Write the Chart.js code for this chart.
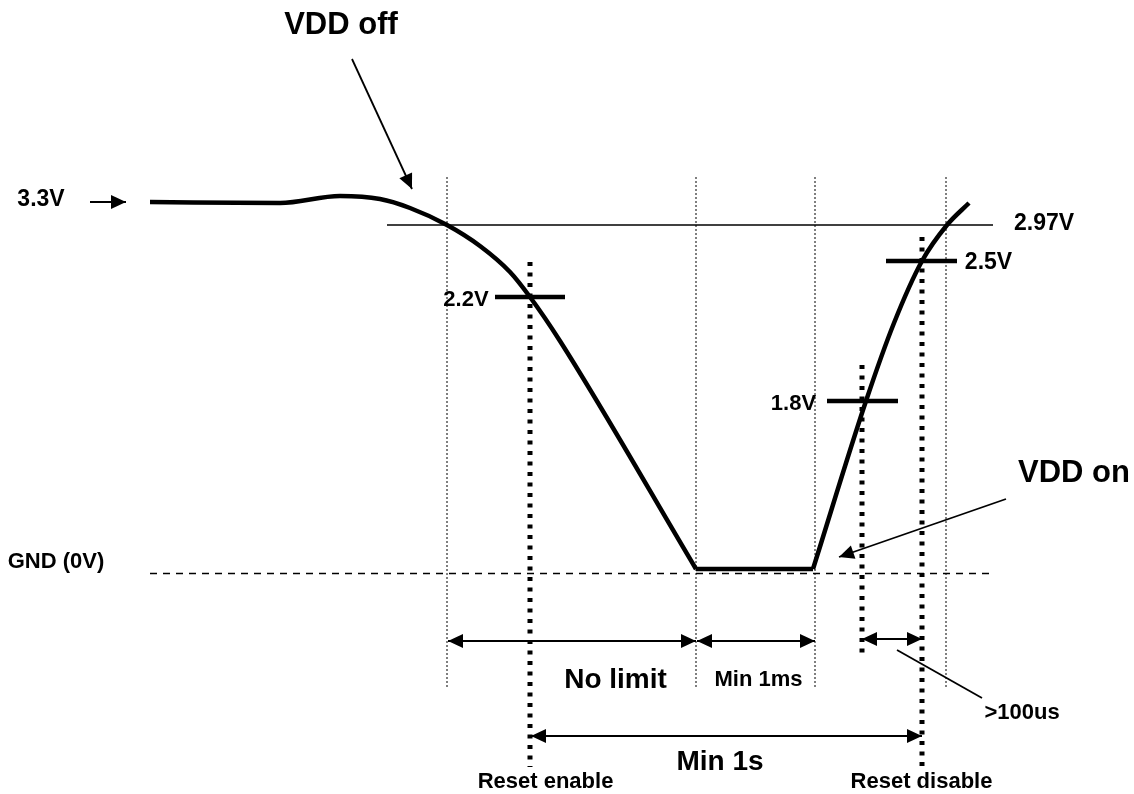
<!DOCTYPE html>
<html>
<head>
<meta charset="utf-8">
<script src="https://cdn.jsdelivr.net/npm/chart.js@4.4.1/dist/chart.umd.min.js"></script>
<style>
    html, body { margin: 0; padding: 0; background: #ffffff; }
    #wrap { width: 1134px; height: 794px; position: relative; }
</style>
</head>
<body>
<div id="wrap"><canvas id="vdd-chart"></canvas></div>
<script>
// time axis in diagram units (t), height in drawn units (h, GND = 0)
const fallT = [15.0, 28.0, 34.0, 38.0, 41.0, 44.7, 48.0, 51.0, 53.0, 56.0, 69.6];
const fallH = [3.715, 3.705, 3.775, 3.745, 3.655, 3.485, 3.275, 3.015, 2.765, 2.325, 0.045];
const bottomT = [69.6, 81.3];
const bottomH = [0.045, 0.045];
const riseT = [81.3, 86.6, 89.4, 92.2, 94.7, 96.9];
const riseH = [0.045, 1.725, 2.505, 3.125, 3.485, 3.705];

// reference levels
const refLineT = [38.7, 99.3];
const refLineH = 3.485;   // 2.97V
const gndLineT = [15.0, 99.3];
const gndLineH = 0;

// threshold ticks: [tStart, tEnd, h]
const thresholdTicks = [
    [49.5, 56.5, 2.765],  // 2.2V
    [88.6, 95.7, 3.125],  // 2.5V
    [82.7, 89.8, 1.725]   // 1.8V
];

// guides: [t, hTop, hBottom]
const thinGuides = [
    [44.7, 3.965, -1.135],
    [69.6, 3.965, -1.135],
    [81.5, 3.965, -1.135],
    [94.6, 3.965, -1.135]
];
const resetGuides = [
    [53.0, 3.115, -1.935],
    [92.2, 3.365, -1.935],
    [86.2, 2.085, -0.845]
];

// arrows: [t1, h1, t2, h2, heads]
const arrows = [
    [9.0, 3.715, 12.6, 3.715, 'end'],     // 3.3V
    [35.2, 5.145, 41.2, 3.845, 'end'],    // VDD off
    [100.6, 0.745, 83.9, 0.165, 'end'],   // VDD on
    [44.8, -0.675, 69.6, -0.675, 'both'], // No limit
    [69.7, -0.675, 81.5, -0.675, 'both'], // Min 1ms
    [86.2, -0.655, 92.2, -0.655, 'both'], // >100us
    [53.1, -1.625, 92.2, -1.625, 'both'], // Min 1s
    [89.7, -0.765, 98.2, -1.245, 'none']  // >100us leader
];

// labels: [text, t, h, font size]
const labelText = ['VDD off', '3.3V', '2.97V', '2.5V', '2.2V', '1.8V', 'VDD on', 'GND (0V)',
    'No limit', 'Min 1ms', 'Min 1s', '>100us', 'Reset enable', 'Reset disable'];
const labelT = [34.1, 4.1, 104.4, 98.85, 46.6, 79.35, 107.4, 5.6, 61.55, 75.85, 72.0, 102.2, 54.55, 92.15];
const labelH = [5.485, 3.735, 3.495, 3.105, 2.735, 1.695, 1.005, 0.115, -1.065, -1.065, -1.885, -1.395, -2.085, -2.085];
const labelSize = [31, 23, 23, 23, 22, 22, 31, 22, 28, 22, 28, 22, 22, 22];

const FONT = '"Liberation Sans", Arial, Helvetica, sans-serif';

function pts(ts, hs) {
    return ts.map((t, i) => ({ x: t, y: Array.isArray(hs) ? hs[i] : hs }));
}

function lineSet(data, extra) {
    return Object.assign({
        data: data,
        showLine: true,
        borderColor: '#000000',
        backgroundColor: '#000000',
        borderWidth: 1.5,
        pointRadius: 0,
        pointHoverRadius: 0,
        borderCapStyle: 'butt',
        fill: false
    }, extra || {});
}

const datasets = [];
datasets.push(lineSet(pts(fallT, fallH), { borderWidth: 4.5, cubicInterpolationMode: 'monotone', borderJoinStyle: 'round' }));
datasets.push(lineSet(pts(bottomT, bottomH), { borderWidth: 4.5 }));
datasets.push(lineSet(pts(riseT, riseH), { borderWidth: 4.5, cubicInterpolationMode: 'monotone', borderJoinStyle: 'round' }));
datasets.push(lineSet(pts(refLineT, refLineH), { borderWidth: 1.6 }));
datasets.push(lineSet(pts(gndLineT, gndLineH), { borderWidth: 1.6, borderDash: [7, 6] }));
thresholdTicks.forEach(tk => {
    datasets.push(lineSet(pts([tk[0], tk[1]], tk[2]), { borderWidth: 4.5 }));
});
thinGuides.forEach(g => {
    datasets.push(lineSet(pts([g[0], g[0]], [g[1], g[2]]), { borderWidth: 1, borderDash: [2, 2] }));
});
resetGuides.forEach(g => {
    datasets.push(lineSet(pts([g[0], g[0]], [g[1], g[2]]), { borderWidth: 5, borderDash: [4, 6.5] }));
});
arrows.forEach(a => {
    datasets.push(lineSet(pts([a[0], a[2]], [a[1], a[3]]), { borderWidth: 1.8, arrowHeads: a[4] }));
});

// draws filled arrow heads at the ends of flagged datasets
const arrowHeadPlugin = {
    id: 'arrowHeads',
    afterDatasetsDraw(chart) {
        const ctx = chart.ctx;
        chart.data.datasets.forEach((ds, i) => {
            if (!ds.arrowHeads || ds.arrowHeads === 'none') return;
            const els = chart.getDatasetMeta(i).data;
            const p1 = els[0], p2 = els[els.length - 1];
            const heads = ds.arrowHeads === 'both' ? [[p2, p1], [p1, p2]] : [[p1, p2]];
            heads.forEach(([from, to]) => {
                const ang = Math.atan2(to.y - from.y, to.x - from.x);
                const len = 15, half = 7;
                ctx.save();
                ctx.translate(to.x, to.y);
                ctx.rotate(ang);
                ctx.beginPath();
                ctx.moveTo(0, 0);
                ctx.lineTo(-len, -half);
                ctx.lineTo(-len, half);
                ctx.closePath();
                ctx.fillStyle = '#000000';
                ctx.fill();
                ctx.restore();
            });
        });
    }
};

const labelPlugin = {
    id: 'diagramLabels',
    afterDatasetsDraw(chart) {
        const ctx = chart.ctx;
        const xs = chart.scales.x, ys = chart.scales.y;
        ctx.save();
        ctx.fillStyle = '#000000';
        ctx.textAlign = 'center';
        ctx.textBaseline = 'middle';
        labelText.forEach((txt, i) => {
            ctx.font = `bold ${labelSize[i]}px ${FONT}`;
            ctx.fillText(txt, xs.getPixelForValue(labelT[i]), ys.getPixelForValue(labelH[i]));
        });
        ctx.restore();
    }
};

new Chart(document.getElementById('vdd-chart'), {
    type: 'scatter',
    data: { datasets: datasets },
    options: {
        responsive: true,
        maintainAspectRatio: false,
        animation: false,
        events: [],
        layout: { padding: 0 },
        plugins: {
            legend: { display: false },
            tooltip: { enabled: false }
        },
        scales: {
            x: { type: 'linear', display: false, min: 0, max: 113.4 },
            y: { type: 'linear', display: false, min: -2.205, max: 5.735 }
        }
    },
    plugins: [arrowHeadPlugin, labelPlugin]
});
</script>
</body>
</html>
